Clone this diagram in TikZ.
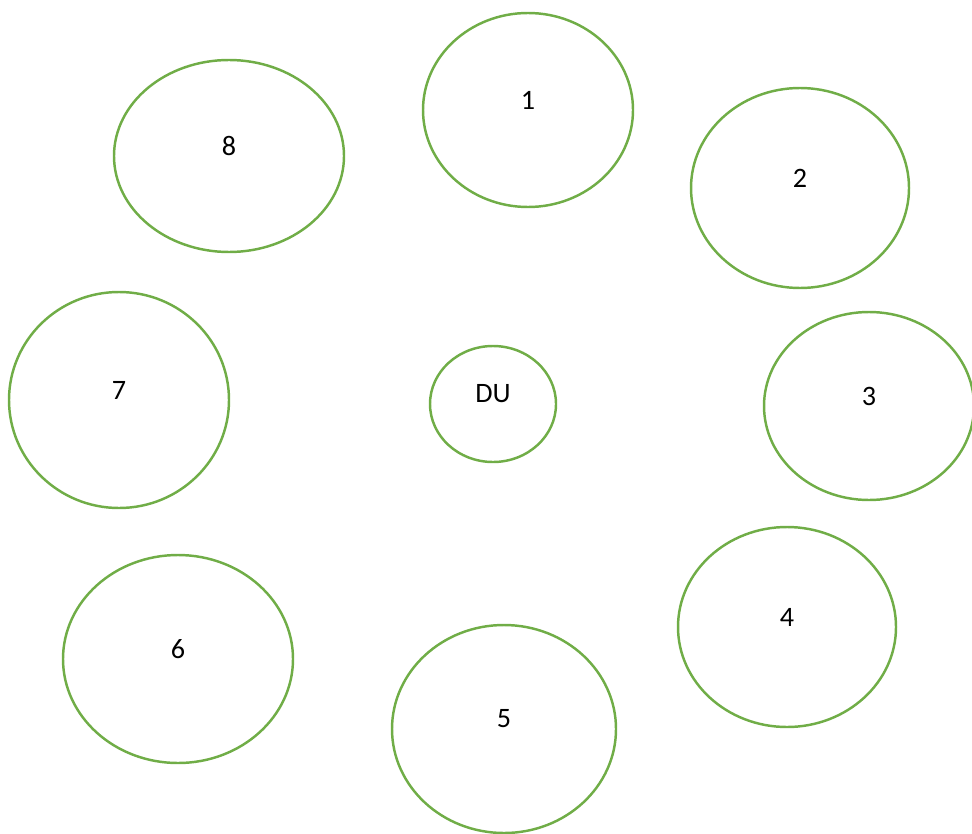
\documentclass[tikz,border=0pt]{standalone}
\usepackage{fontspec}
\setmainfont{Carlito}
\usetikzlibrary{shapes.geometric}
\definecolor{zonegreen}{RGB}{112,173,71}

\begin{document}
\begin{tikzpicture}[
  zone/.style={ellipse, draw=zonegreen, line width=1.4pt, inner sep=0pt},
  tag/.style={inner sep=0pt, font=\fontsize{16}{19}\selectfont}
]
  \useasboundingbox (0,0) rectangle (19.44,-16.66);

  \node[zone, minimum width=4.20cm, minimum height=3.88cm] (z1) at (10.56,-2.20) {};
  \node[zone, minimum width=4.36cm, minimum height=4.00cm] (z2) at (16.00,-3.76) {};
  \node[zone, minimum width=4.20cm, minimum height=3.76cm] (z3) at (17.38,-8.12) {};
  \node[zone, minimum width=4.36cm, minimum height=4.00cm] (z4) at (15.74,-12.54) {};
  \node[zone, minimum width=4.48cm, minimum height=4.16cm] (z5) at (10.08,-14.58) {};
  \node[zone, minimum width=4.60cm, minimum height=4.16cm] (z6) at (3.56,-13.18) {};
  \node[zone, minimum width=4.40cm, minimum height=4.32cm] (z7) at (2.38,-8.00) {};
  \node[zone, minimum width=4.60cm, minimum height=3.84cm] (z8) at (4.58,-3.12) {};
  \node[zone, minimum width=2.52cm, minimum height=2.32cm] (du) at (9.86,-8.08) {};

  % labels sit a little above the centres
  \foreach \n in {1,...,8}
    \node[tag] (t\n) at ([yshift=0.2cm]z\n.center) {\n};
  \node[tag] (tdu) at ([yshift=0.2cm]du.center) {DU};
\end{tikzpicture}
\end{document}
